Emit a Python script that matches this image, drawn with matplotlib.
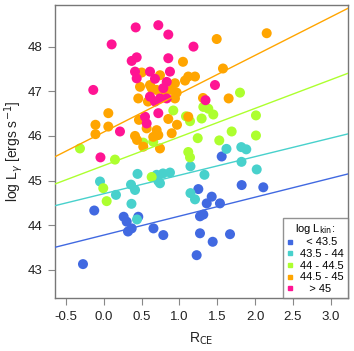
import matplotlib
matplotlib.use("Agg")
import matplotlib.pyplot as plt
from matplotlib.lines import Line2D
import numpy as np

plt.rcParams['font.family'] = ['Liberation Sans', 'DejaVu Sans']

# ---- data (R_CE, log L_gamma) per log L_kin bin ----
blue_r = [-0.275, -0.126, 0.263, 0.303, 0.320, 0.369, 0.456, 0.657, 0.787, 1.272, 1.669,
          1.440, 1.228, 1.272, 1.316, 1.361, 1.427, 1.536, 1.250, 1.823, 2.109, 1.559]
blue_l = [43.13, 44.33, 44.19, 44.08, 43.86, 43.93, 44.19, 43.93, 43.78, 43.82, 43.80,
          43.63, 43.33, 44.20, 44.24, 44.49, 44.64, 44.49, 44.81, 44.90, 44.85, 45.54]

cyan_r = [-0.050, 0.161, 0.360, 0.413, 0.366, 0.439, 0.446, 0.721, 0.699, 0.783, 0.875,
          1.146, 1.331, 1.622, 1.818, 1.884, 1.821, 2.022, 1.146, 1.206, 0.743]
cyan_l = [44.98, 44.68, 44.91, 44.79, 44.48, 44.13, 45.15, 44.99, 45.13, 45.16, 45.18,
          45.32, 45.13, 45.71, 45.75, 45.70, 45.42, 45.25, 44.72, 44.58, 44.94]

green_r = [-0.315, 0.148, -0.007, 0.038, 0.633, 0.522, 0.654, 0.919, 1.087, 1.140, 1.316,
           1.382, 1.448, 1.294, 1.801, 2.012, 2.012, 1.691, 1.242, 1.527, 1.117, 1.140]
green_l = [45.72, 45.47, 44.83, 44.54, 45.08, 45.85, 45.87, 46.57, 46.44, 46.33, 46.65,
           46.61, 46.48, 46.39, 46.97, 46.46, 46.01, 46.10, 45.95, 45.90, 45.64, 45.52]

orange_r = [0.060, -0.110, -0.110, 0.060, 0.413, 0.439, 0.522, 0.743, 0.654, 0.699, 0.567,
            0.721, 0.898, 0.853, 0.968, 1.117, 0.465, 0.456, 0.584, 0.479, 0.501, 0.633,
            0.743, 0.699, 0.898, 0.964, 1.047, 1.493, 2.154, 1.576, 1.117, 1.206, 1.074,
            0.941, 1.312, 1.651, 0.941, 0.611, 0.809]
orange_l = [46.51, 46.25, 46.04, 46.21, 46.00, 45.91, 45.76, 45.72, 45.98, 46.13, 46.17,
            46.02, 46.06, 46.38, 46.25, 46.43, 46.36, 46.84, 46.77, 47.10, 47.42, 47.07,
            47.36, 47.03, 47.03, 46.97, 47.66, 48.17, 48.30, 47.51, 47.33, 47.33, 47.24,
            47.18, 46.85, 46.84, 46.84, 47.14, 46.99]

pink_r = [0.104, 0.422, 0.721, 0.853, -0.139, 0.369, 0.435, 0.413, 0.435, 0.611, 0.677,
          0.875, 0.832, 0.853, 1.186, 1.470, 1.345, 0.611, 0.677, 0.743, 0.832, 0.721,
          0.545, 0.567, 0.214, -0.044, 0.787]
pink_l = [48.05, 48.43, 48.48, 48.27, 47.03, 47.68, 47.76, 47.44, 47.29, 47.44, 47.28,
          47.44, 47.21, 47.74, 48.00, 47.14, 46.80, 46.88, 46.77, 46.84, 46.84, 46.51,
          46.43, 46.28, 46.10, 45.52, 47.07]

bin_labels = ["  < 43.5", "43.5 - 44", "44 - 44.5", "44.5 - 45", "   > 45"]
bin_colors = ["#4169E1", "#48D1CC", "#ADFF2F", "#FFA500", "#FF1493"]

# regression lines (intercept, slope) for first four bins
fit_intercepts = [43.78, 44.706, 45.337, 46.088]
fit_slopes = [0.424, 0.415, 0.640, 0.858]

xticks = [-0.5, 0.0, 0.5, 1.0, 1.5, 2.0, 2.5, 3.0]
yticks = [43, 44, 45, 46, 47, 48]

# ---- figure ----
fig = plt.figure(figsize=(3.54, 3.51), dpi=100)
ax = fig.add_axes([55/354, 53/351, 293/354, 293/351])

series = [(blue_r, blue_l), (cyan_r, cyan_l), (green_r, green_l),
          (orange_r, orange_l), (pink_r, pink_l)]
for (r, l), c in zip(series, bin_colors):
    ax.scatter(r, l, s=52, color=c, edgecolors='none', zorder=2)

xlim = (-0.645, 3.229)
ax.set_xlim(*xlim)
ax.set_ylim(42.371, 48.932)
xx = np.array(xlim)
for a, b, c in zip(fit_intercepts, fit_slopes, bin_colors[:4]):
    ax.plot(xx, a + b * xx, color=c, lw=1.0, zorder=3)

ax.set_xticks(xticks)
ax.set_xticklabels([f"{t:.1f}" for t in xticks])
ax.set_yticks(yticks)
ax.set_yticklabels([str(t) for t in yticks])
ax.tick_params(direction='out', length=5, width=0.8, color='#888888',
               labelsize=9.5, labelcolor='#222222', pad=4)
for sp in ax.spines.values():
    sp.set_color('#777777')
    sp.set_linewidth(1.0)

ax.set_xlabel(r"R$_{\rm CE}$", fontsize=10, color='#222222', labelpad=6)
ax.set_ylabel(r"log L$_\gamma$ [ergs s$^{-1}$]", fontsize=10, color='#222222', labelpad=2)

handles = [Line2D([], [], marker='s', ls='none', color=c, markersize=3.0) for c in bin_colors]
leg = ax.legend(handles, bin_labels, loc='lower right', title=r"log L$_{\rm kin}$:",
                fontsize=8, title_fontsize=8, frameon=True, fancybox=False,
                borderaxespad=0, handlelength=0.6, handletextpad=0.6,
                labelspacing=0.15, borderpad=0.35)
leg.get_frame().set_edgecolor('#777777')
leg.get_frame().set_linewidth(1.0)

fig.savefig("out.png", dpi=100)
